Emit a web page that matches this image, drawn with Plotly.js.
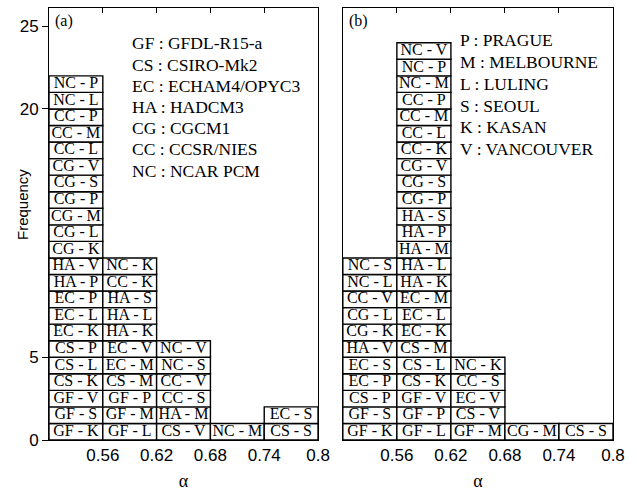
<!DOCTYPE html>
<html><head><meta charset="utf-8">
<script src="https://cdn.plot.ly/plotly-3.0.1.min.js"></script>
<style>html,body{margin:0;padding:0;background:#fff}#chart{width:637px;height:491px}</style>
</head><body><div id="chart"></div>
<script>
// Histogram bins of alpha (lower edges) and bin width
const binLower = [0.50, 0.56, 0.62, 0.68, 0.74];
const binWidth = 0.06;

// Panel (a): model-city pairs in each bin, bottom to top
const aBin1 = ['GF - K','GF - S','GF - V','CS - K','CS - L','CS - P','EC - K','EC - L','EC - P','HA - P','HA - V','CG - K','CG - L','CG - M','CG - P','CG - S','CG - V','CC - L','CC - M','CC - P','NC - L','NC - P'];
const aBin2 = ['GF - L','GF - M','GF - P','CS - M','EC - M','EC - V','HA - K','HA - L','HA - S','CC - K','NC - K'];
const aBin3 = ['CS - V','HA - M','CC - S','CC - V','NC - S','NC - V'];
const aBin4 = ['NC - M'];
const aBin5 = ['CS - S','EC - S'];

// Panel (b)
const bBin1 = ['GF - K','GF - S','CS - P','EC - P','EC - S','HA - V','CG - K','CG - L','CC - V','NC - L','NC - S'];
const bBin2 = ['GF - L','GF - P','GF - V','CS - K','CS - L','CS - M','EC - K','EC - L','EC - M','HA - K','HA - L','HA - M','HA - P','HA - S','CG - P','CG - S','CG - V','CC - K','CC - L','CC - M','CC - P','NC - M','NC - P','NC - V'];
const bBin3 = ['GF - M','CS - V','EC - V','CC - S','NC - K'];
const bBin4 = ['CG - M'];
const bBin5 = ['CS - S'];

// Key texts
const modelCodes = ['GF','CS','EC','HA','CG','CC','NC'];
const modelNames = ['GFDL-R15-a','CSIRO-Mk2','ECHAM4/OPYC3','HADCM3','CGCM1','CCSR/NIES','NCAR PCM'];
const cityCodes = ['P','M','L','S','K','V'];
const cityNames = ['PRAGUE','MELBOURNE','LULING','SEOUL','KASAN','VANCOUVER'];

// Axis ticks
const xTickVals = [0.56, 0.62, 0.68, 0.74, 0.8];
const xTickText = ['0.56','0.62','0.68','0.74','0.8'];
const yTickVals = [0, 5, 20, 25];

const SERIF = '"Liberation Serif", "Times New Roman", Times, serif';
const SANS = '"Liberation Sans", Arial, Helvetica, sans-serif';

function makeTraces(bins, xa, ya) {
  const x = [], y = [], base = [], text = [], ty = [];
  bins.forEach((labels, i) => {
    labels.forEach((lab, j) => {
      x.push(binLower[i] + binWidth / 2);
      y.push(1);
      base.push(j);
      ty.push(j + 0.5);
      text.push(lab);
    });
  });
  return [
    {type: 'bar', x: x, y: y, base: base, width: binWidth, xaxis: xa, yaxis: ya,
     marker: {color: 'white', line: {color: 'black', width: 1.4}}, hoverinfo: 'skip'},
    {type: 'scatter', mode: 'text', x: x, y: ty, text: text, xaxis: xa, yaxis: ya,
     textposition: 'middle center', textfont: {family: SERIF, size: 16, color: 'black'},
     hoverinfo: 'skip', cliponaxis: false}
  ];
}

const traces = [].concat(
  makeTraces([aBin1, aBin2, aBin3, aBin4, aBin5], 'x', 'y'),
  makeTraces([bBin1, bBin2, bBin3, bBin4, bBin5], 'x2', 'y2')
);

const yTop = 26.1;
const annotations = [];
annotations.push({xref: 'x domain', yref: 'y domain', x: 0.015, y: 1 - 13 / 432, text: '(a)',
  showarrow: false, xanchor: 'left', yanchor: 'middle', font: {family: SERIF, size: 16, color: 'black'}});
annotations.push({xref: 'x2 domain', yref: 'y2 domain', x: 0.014, y: 1 - 13 / 432, text: '(b)',
  showarrow: false, xanchor: 'left', yanchor: 'middle', font: {family: SERIF, size: 16, color: 'black'}});
modelCodes.forEach((c, i) => {
  annotations.push({xref: 'x', yref: 'y', x: 0.590, y: 23.96 - 1.28 * i, text: c + ' : ' + modelNames[i],
    showarrow: false, xanchor: 'left', yanchor: 'middle', font: {family: SERIF, size: 17.5, color: 'black'}});
});
cityCodes.forEach((c, i) => {
  annotations.push({xref: 'x2', yref: 'y2', x: 0.628, y: 24.15 - 1.316 * i, text: c + ' : ' + cityNames[i],
    showarrow: false, xanchor: 'left', yanchor: 'middle', font: {family: SERIF, size: 17.5, color: 'black'}});
});
// y-axis title (placed as in the reference, left of the tick labels)
annotations.push({xref: 'paper', yref: 'paper', x: -27 / 564, y: 235 / 432, text: 'Frequency', textangle: -90,
  showarrow: false, xanchor: 'center', yanchor: 'middle', font: {family: SANS, size: 15, color: 'black'}});

const xBase = {
  range: [0.5, 0.8], tickvals: xTickVals, ticktext: xTickText, ticks: 'inside', ticklen: 5,
  tickcolor: 'black', showline: true, linecolor: 'black', linewidth: 1, mirror: 'ticks',
  showgrid: false, zeroline: false, tickfont: {family: SANS, size: 17, color: 'black'},
  title: {text: 'α', font: {family: SERIF, size: 18, color: 'black'}}, fixedrange: true
};
const yBase = {
  range: [0, yTop], showline: true, linecolor: 'black', linewidth: 1, mirror: true,
  showgrid: false, zeroline: false, fixedrange: true
};

const layout = {
  width: 637, height: 491,
  margin: {l: 49, r: 24, t: 8, b: 51},
  paper_bgcolor: 'white', plot_bgcolor: 'white',
  showlegend: false,
  xaxis: Object.assign({}, xBase, {domain: [0, 0.477], anchor: 'y'}),
  xaxis2: Object.assign({}, xBase, {domain: [0.521, 1], anchor: 'y2'}),
  yaxis: Object.assign({}, yBase, {domain: [0, 1], anchor: 'x', tickvals: yTickVals, ticks: 'outside',
    ticklen: 6, tickcolor: 'black', tickfont: {family: SANS, size: 17, color: 'black'}}),
  yaxis2: Object.assign({}, yBase, {domain: [0, 1], anchor: 'x2', showticklabels: false, ticks: ''}),
  annotations: annotations
};

Plotly.newPlot('chart', traces, layout, {displayModeBar: false, staticPlot: true});
</script>
</body></html>
